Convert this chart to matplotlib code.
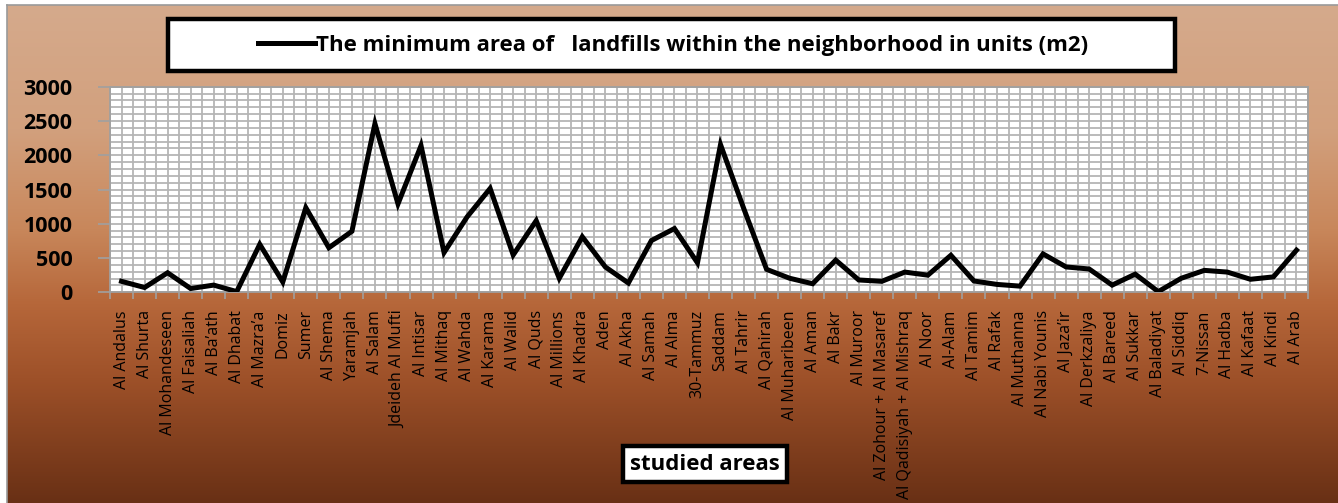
import matplotlib
matplotlib.use("Agg")
import matplotlib.pyplot as plt
from matplotlib.colors import LinearSegmentedColormap
from matplotlib.patches import Rectangle
from matplotlib.ticker import MultipleLocator, FixedLocator
import numpy as np

areas = [
    "Al Andalus", "Al Shurta", "Al Mohandeseen", "Al Faisaliah", "Al Ba\u2019ath",
    "Al Dhabat", "Al Mazra\u2019a", "Domiz", "Sumer", "Al Shema", "Yaramjah",
    "Al Salam", "Jdeideh Al Mufti", "Al Intisar", "Al Mithaq", "Al Wahda",
    "Al Karama", "Al Walid", "Al Quds", "Al Millions", "Al Khadra", "Aden",
    "Al Akha", "Al Samah", "Al Alma", "30-Tammuz", "Saddam", "Al Tahrir",
    "Al Qahirah", "Al Muharibeen", "Al Aman", "Al Bakr", "Al Muroor",
    "Al Zohour + Al Masaref", "Al Qadisiyah + Al Mishraq", "Al Noor", "Al-Alam",
    "Al Tamim", "Al Rafak", "Al Muthanna", "Al Nabi Younis", "Al Jaza\u2019ir",
    "Al Derkzaliya", "Al Bareed", "Al Sukkar", "Al Baladiyat", "Al Siddiq",
    "7-Nissan", "Al Hadba", "Al Kafaat", "Al Kindi", "Al Arab",
]
min_area = [
    160, 70, 285, 55, 105, 10, 700, 150, 1235, 650, 890,
    2460, 1290, 2140, 580, 1100, 1515, 545, 1045, 205, 810, 370,
    135, 755, 930, 430, 2155, 1230, 335, 205, 125, 470, 180,
    160, 295, 250, 540, 165, 115, 90, 560, 370,
    340, 105, 265, 10, 205, 320, 295, 190, 225, 615,
]

W, H = 1338, 503
fig = plt.figure(figsize=(W / 100, H / 100), dpi=100)
fig.patch.set_facecolor("white")

# gradient background
bg = fig.add_axes([7 / W, 0, 1 - 7 / W, 1 - 5 / H])
cmap = LinearSegmentedColormap.from_list(
    "brown",
    [(0.0, "#D5AA8C"), (0.25, "#D2A07D"), (0.45, "#C8875B"),
     (0.6, "#B6673A"), (0.75, "#9E5129"), (1.0, "#693015")],
)
grad = np.linspace(0, 1, 256).reshape(-1, 1)
bg.imshow(grad, aspect="auto", cmap=cmap, extent=(0, 1, 0, 1))
bg.set_xlim(0, 1)
bg.set_ylim(0, 1)
bg.set_xticks([])
bg.set_yticks([])
for s in bg.spines.values():
    s.set_color("#9A9A9A")
    s.set_linewidth(1.2)
bg.spines["right"].set_visible(False)
bg.spines["bottom"].set_visible(False)

ax = fig.add_axes([110 / W, 1 - 292.3 / H, (1308 - 110) / W, 205.6 / H])
ax.set_facecolor("white")
x = np.arange(len(areas))
ax.plot(x, min_area, color="black", lw=3.6, solid_joinstyle="miter",
        label="The minimum area of   landfills within the neighborhood in units (m2)",
        zorder=5)

ax.set_xlim(-0.5, len(areas) - 0.5)
ax.set_ylim(0, 3000)
ax.set_xticks(x)
ax.set_xticklabels(areas, rotation=90, fontsize=11.5, family="Open Sans")
ax.xaxis.set_minor_locator(FixedLocator(np.arange(-0.5, len(areas), 1.0)))
ax.tick_params(axis="x", which="major", length=0, pad=13)
ax.tick_params(axis="x", which="minor", length=5, color="#A0A0A0", width=1.2)
ax.yaxis.set_major_locator(MultipleLocator(500))
ax.yaxis.set_minor_locator(MultipleLocator(100))
ax.tick_params(axis="y", which="major", length=9, color="#A0A0A0", width=1.2, pad=18)
ax.tick_params(axis="y", which="minor", length=0)
for lab in ax.get_yticklabels():
    lab.set_family("Open Sans")
    lab.set_fontweight("bold")
    lab.set_fontsize(15.5)
ax.grid(which="both", color="#B5B5B5", lw=1.3)
ax.set_axisbelow(True)
for s in ax.spines.values():
    s.set_color("#A0A0A0")
    s.set_linewidth(1.3)

# legend box on top
fig.add_artist(Rectangle((168 / W, 1 - 71 / H), (1175 - 168) / W, 52 / H,
                         transform=fig.transFigure, facecolor="white",
                         edgecolor="black", lw=3.2, zorder=3))
leg = fig.legend(loc="center", bbox_to_anchor=(673 / W, 1 - 45 / H), frameon=False,
                 handlelength=2.55, handletextpad=0.05,
                 prop={"family": "Open Sans", "weight": "bold", "size": 16})
leg.set_zorder(4)

fig.text(705 / W, 1 - 464 / H, "studied areas", ha="center", va="center",
         family="Open Sans", fontweight="bold", fontsize=16,
         bbox=dict(boxstyle="square,pad=0.33", facecolor="white",
                   edgecolor="black", lw=3.2))

fig.savefig("out.png", dpi=100)
